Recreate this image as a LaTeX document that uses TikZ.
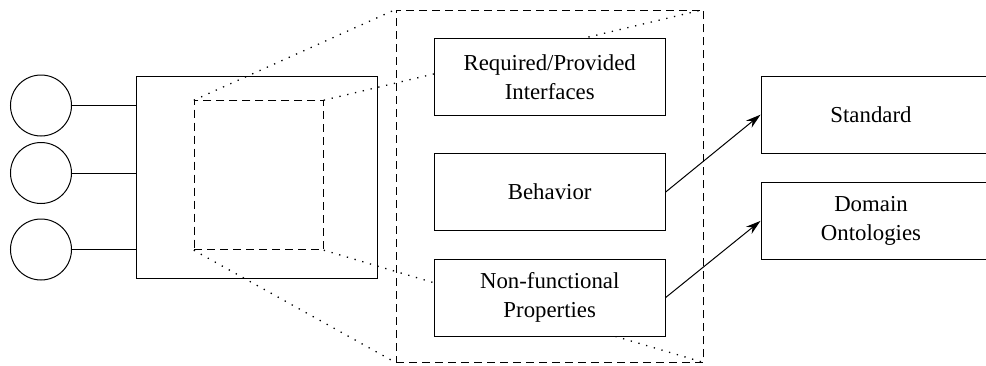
\documentclass[tikz,border=0pt]{standalone}
\usepackage{fontspec}
\setmainfont{Liberation Serif}
\usetikzlibrary{arrows.meta, calc}

\begin{document}
\begin{tikzpicture}[
				x=1pt, y=-1pt,
				line width=1pt,
				port/.style={
						draw,
						circle,
						minimum size=61pt,
						inner sep=0pt,
					},
				compbox/.style={
						draw,
						minimum width=240.6pt,
						minimum height=202.3pt,
					},
				partbox/.style={
						draw,
						dash pattern=on 8pt off 5pt,
						minimum width=129pt,
						minimum height=149pt,
					},
				zoombox/.style={
						draw,
						dash pattern=on 8pt off 5pt,
						minimum width=307.3pt,
						minimum height=352pt,
					},
				featbox/.style={
						draw,
						fill=white,
						minimum width=231pt,
						minimum height=77pt,
						align=center,
						font=\fontsize{22.8}{29}\selectfont,
					},
				extbox/.style={
						featbox,
						minimum width=269pt,
					},
				projline/.style={
						line width=1.3pt,
						dash pattern=on 1.3pt off 6.7pt,
					},
				assoc/.style={
						-{Stealth[length=15pt, width=9pt]},
					},
			]

			% Rahmen des Bildes
			\clip (0,0) rectangle (986,365);

			% Ports links
			\node[port] (port1) at (41,105.5) {};
			\node[port] (port2) at (41,173) {};
			\node[port] (port3) at (41,249.5) {};

			% Komponente mit herausgezoomtem Teil
			\node[compbox] (comp) at (257,177.2) {};
			\node[partbox] (part) at (258.8,175.2) {};

			% Verbindungen der Ports zur Komponente
			\foreach \i in {1,2,3} {
					\draw (port\i.east) -- (port\i.east -| comp.west);
				}

			% Vergroesserter Ausschnitt
			\node[zoombox] (zoomed) at (549.7,186) {};

			% Projektionslinien (unter den Kaesten)
			\draw[projline] (part.north west) -- (zoomed.north west);
			\draw[projline] (part.north east) -- (zoomed.north east);
			\draw[projline] (part.south east) -- (zoomed.south east);
			\draw[projline] (part.south west) -- (zoomed.south west);

			% Drei Aspekte im Ausschnitt
			\node[featbox] (iface) at (549.7,76.8) {Required/Provided\\Interfaces};
			\node[featbox] (behav) at (549.7,192) {Behavior};
			\node[featbox] (nonfunc) at (549.7,297.5) {Non-functional\\Properties};

			% Externe Beschreibungen rechts
			\node[extbox, label={[xshift=-24.5pt, font=\fontsize{22.8}{29}\selectfont]center:Standard}]
			(std) at (895.5,114.7) {};
			\node[extbox, label={[xshift=-24.5pt, align=center, font=\fontsize{22.8}{29}\selectfont]center:Domain\\Ontologies}]
			(dom) at (895.5,220.9) {};

			% Pfeile zu den Beschreibungen
			\draw[assoc] (behav.east) -- (std.west);
			\draw[assoc] (nonfunc.east) -- (dom.west);

		\end{tikzpicture}
\end{document}
